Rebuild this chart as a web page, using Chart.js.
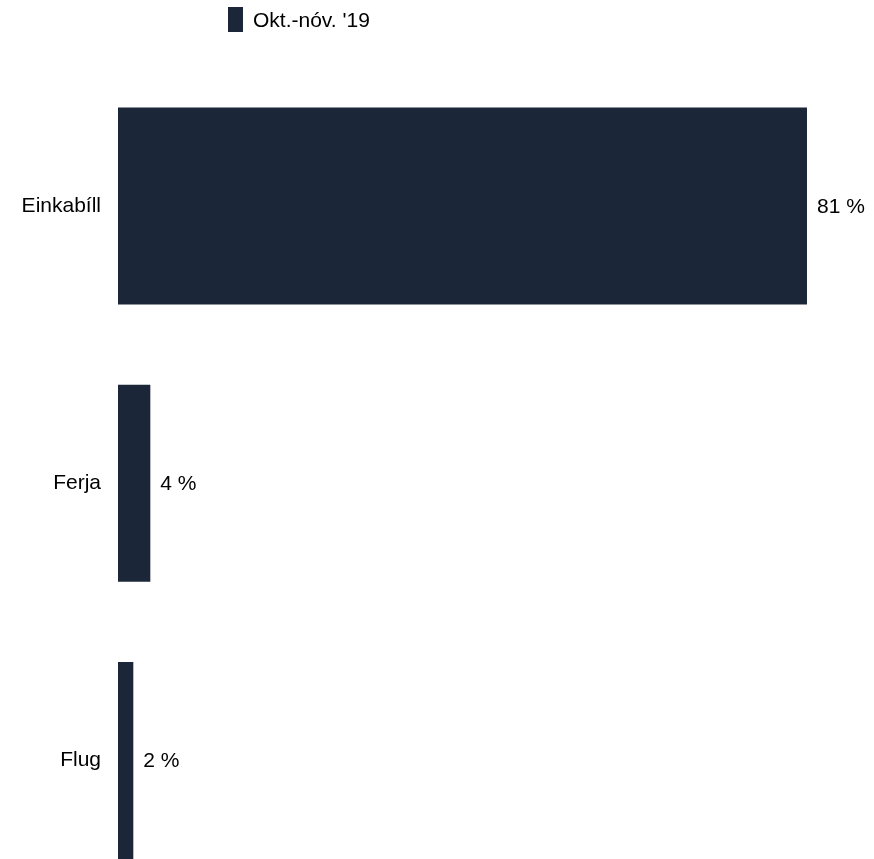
<!DOCTYPE html>
<html>
<head>
<meta charset="utf-8">
<script src="https://cdn.jsdelivr.net/npm/chart.js@4/dist/chart.umd.min.js"></script>
<style>
    html, body { margin: 0; padding: 0; background: #fff; overflow: hidden; }
    #wrap { width: 874px; height: 899px; }
</style>
</head>
<body>
<div id="wrap"><canvas id="chart" width="874" height="899"></canvas></div>
<script>
const categories = ['Einkabíll', 'Ferja', 'Flug'];
const seriesName = "Okt.-nóv. '19";
// bar lengths; labels show them rounded
const values = [81, 3.8, 1.8];
const barColor = '#1b2738';
const font = 'Arial, "Liberation Sans", sans-serif';

// legend drawn by hand so it sits where the original one does
const legendPlugin = {
    id: 'manualLegend',
    afterDraw(chart) {
        const ctx = chart.ctx;
        const ds = chart.data.datasets[0];
        ctx.save();
        ctx.fillStyle = ds.backgroundColor;
        ctx.fillRect(228, 7, 15, 25);
        ctx.fillStyle = '#000';
        ctx.font = '21px ' + font;
        ctx.textBaseline = 'middle';
        ctx.textAlign = 'left';
        ctx.fillText(ds.label, 253, 21);
        ctx.restore();
    }
};

const valueLabels = {
    id: 'valueLabels',
    afterDatasetsDraw(chart) {
        const ctx = chart.ctx;
        const meta = chart.getDatasetMeta(0);
        ctx.save();
        ctx.fillStyle = '#000';
        ctx.font = '21px ' + font;
        ctx.textBaseline = 'middle';
        ctx.textAlign = 'left';
        meta.data.forEach((bar, i) => {
            ctx.fillText(Math.round(values[i]) + ' %', bar.x + 10, bar.y + 1);
        });
        ctx.restore();
    }
};

const ctx = document.getElementById('chart').getContext('2d');
new Chart(ctx, {
    type: 'bar',
    data: {
        labels: categories,
        datasets: [{
            label: seriesName,
            data: values,
            backgroundColor: barColor,
            borderWidth: 0,
            categoryPercentage: 1,
            barPercentage: 0.711
        }]
    },
    options: {
        indexAxis: 'y',
        responsive: false,
        animation: false,
        devicePixelRatio: 1,
        // canvas is taller than the window: last bar runs off the bottom edge
        layout: { padding: { top: 67.5, left: 0, right: 67, bottom: 0 } },
        plugins: {
            legend: { display: false },
            tooltip: { enabled: false }
        },
        scales: {
            x: {
                display: false,
                min: 0,
                max: 81
            },
            y: {
                grid: { display: false },
                border: { display: false },
                ticks: {
                    color: '#000',
                    padding: 9,
                    font: { family: font, size: 21 }
                },
                afterFit(scale) {
                    scale.width = 118;
                    scale.paddingTop = 0;
                    scale.paddingBottom = 0;
                }
            }
        }
    },
    plugins: [legendPlugin, valueLabels]
});
</script>
</body>
</html>
